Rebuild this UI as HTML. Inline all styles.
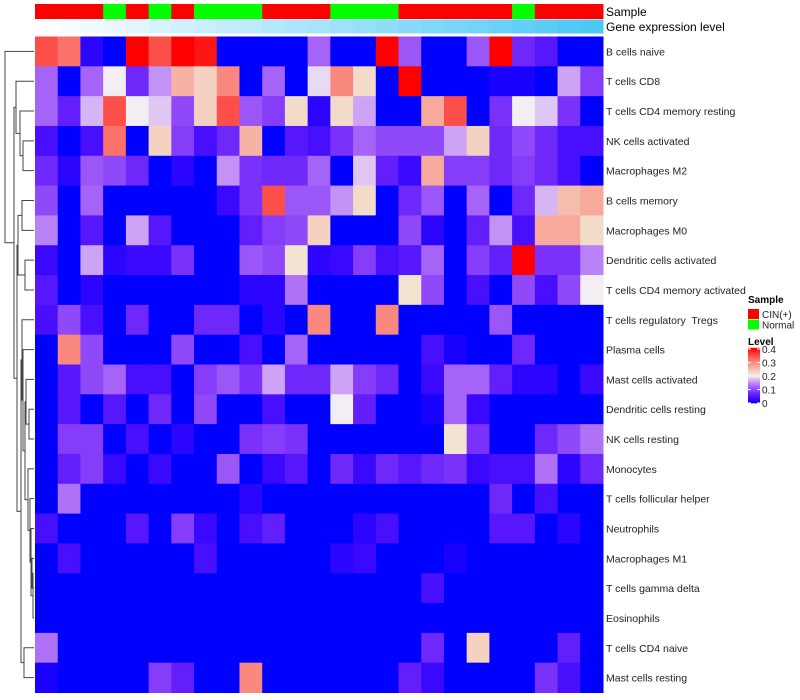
<!DOCTYPE html>
<html><head><meta charset="utf-8"><style>
body{margin:0;background:#fff;width:800px;height:700px;overflow:hidden}
svg{display:block}
text{font-family:"Liberation Sans",sans-serif;white-space:pre}
</style></head><body>
<svg id="chart" width="800" height="700"></svg>
<script>
const rowNames=["B cells naive","T cells CD8","T cells CD4 memory resting","NK cells activated","Macrophages M2","B cells memory","Macrophages M0","Dendritic cells activated","T cells CD4 memory activated","T cells regulatory  Tregs","Plasma cells","Mast cells activated","Dendritic cells resting","NK cells resting","Monocytes","T cells follicular helper","Neutrophils","Macrophages M1","T cells gamma delta","Eosinophils","T cells CD4 naive","Mast cells resting"];
const sampleGroups=["CIN","CIN","CIN","Normal","CIN","Normal","CIN","Normal","Normal","Normal","CIN","CIN","CIN","Normal","Normal","Normal","CIN","CIN","CIN","CIN","CIN","Normal","CIN","CIN","CIN"];
const geneLevel=[0,0.04,0.08,0.12,0.17,0.21,0.25,0.29,0.33,0.37,0.42,0.46,0.5,0.54,0.58,0.62,0.67,0.71,0.75,0.79,0.83,0.87,0.92,0.96,1];
const r0=[0.35,0.32,0.02,0,0.4,0.35,0.4,0.39,0,0,0,0,0.12,0,0,0.4,0.11,0,0,0.11,0.4,0.07,0.05,0,0];
const r1=[0.12,0,0.12,0.2,0.07,0.15,0.26,0.23,0.3,0,0.12,0,0.19,0.3,0.22,0,0.4,0,0,0,0.01,0.01,0,0.16,0.09];
const r2=[0.12,0.06,0.17,0.35,0.2,0.18,0.1,0.23,0.35,0.11,0.09,0.22,0.02,0.22,0.16,0,0,0.27,0.35,0,0.08,0.2,0.18,0.08,0];
const r3=[0.04,0,0.04,0.32,0,0.23,0.09,0.04,0.07,0.26,0,0.05,0.04,0.08,0.12,0.1,0.1,0.1,0.16,0.23,0.07,0.1,0.07,0.04,0.04];
const r4=[0.07,0.02,0.11,0.1,0.07,0,0.02,0,0.15,0.08,0.07,0.07,0.12,0,0.18,0.06,0.03,0.27,0.09,0.09,0.07,0.09,0.07,0.04,0];
const r5=[0.1,0,0.12,0,0,0,0,0,0.03,0.08,0.35,0.11,0.11,0.15,0.22,0,0.07,0.11,0,0.12,0,0.07,0.17,0.25,0.27];
const r6=[0.14,0,0.05,0,0.16,0.05,0,0,0,0.06,0.09,0.1,0.23,0,0,0,0.1,0.02,0,0.06,0.15,0.04,0.27,0.27,0.22];
const r7=[0.03,0,0.16,0.02,0.03,0.03,0.08,0,0,0.11,0.1,0.21,0.02,0.03,0.09,0.04,0.05,0.12,0,0.09,0.06,0.4,0.08,0.08,0.14];
const r8=[0.05,0,0.02,0,0,0,0,0,0,0.02,0.02,0.13,0,0,0,0,0.21,0.1,0,0.04,0,0.1,0.04,0.1,0.2];
const r9=[0.04,0.1,0.04,0,0.07,0,0,0.07,0.07,0,0.02,0,0.3,0,0,0.3,0,0,0,0,0.11,0,0,0,0];
const r10=[0,0.3,0.1,0,0,0,0.1,0,0,0.04,0,0.12,0,0,0,0,0,0.04,0.01,0,0,0.07,0,0,0];
const r11=[0,0.05,0.1,0.12,0.04,0.04,0,0.09,0.11,0.08,0.16,0.07,0.07,0.16,0.09,0.07,0,0.03,0.12,0.12,0.06,0.02,0.02,0,0.03];
const r12=[0,0.05,0,0.05,0,0.07,0,0.1,0,0,0.04,0,0,0.2,0.06,0,0,0.01,0.12,0.03,0,0,0,0,0];
const r13=[0,0.09,0.09,0,0.04,0,0.02,0,0,0.08,0.09,0.08,0,0,0,0,0,0,0.21,0.08,0,0,0.07,0.1,0.13];
const r14=[0,0.06,0.09,0.03,0,0.03,0,0,0.11,0,0.03,0.05,0,0.07,0.03,0.07,0.05,0.07,0.08,0.03,0.04,0.04,0.13,0.02,0.07];
const r15=[0,0.13,0,0,0,0,0,0,0,0.02,0,0,0,0,0,0,0,0,0,0,0.07,0,0.04,0,0];
const r16=[0.04,0,0,0,0.05,0,0.09,0.03,0,0.04,0.06,0,0,0,0.02,0.04,0,0,0,0,0.05,0.05,0,0.02,0];
const r17=[0,0.04,0,0,0,0,0,0.04,0,0,0,0,0,0.02,0.03,0,0,0,0.01,0,0,0,0,0,0];
const r18=[0,0,0,0,0,0,0,0,0,0,0,0,0,0,0,0,0,0.04,0,0,0,0,0,0,0];
const r19=[0,0,0,0,0,0,0,0,0,0,0,0,0,0,0,0,0,0,0,0,0,0,0,0,0];
const r20=[0.13,0,0,0,0,0,0,0,0,0,0,0,0,0,0,0,0,0.07,0,0.23,0,0,0,0.06,0];
const r21=[0.01,0,0,0,0,0.09,0.06,0,0,0.3,0,0,0,0,0,0,0.06,0.03,0,0,0,0,0.08,0.04,0];
const values=[r0,r1,r2,r3,r4,r5,r6,r7,r8,r9,r10,r11,r12,r13,r14,r15,r16,r17,r18,r19,r20,r21];
const legendTicks=[0,0.1,0.2,0.3,0.4];
// dendrogram merges: [childA, childB, xpos]; ids >=22 refer to merges
const merges=[[3,4,23],[2,22,20],[1,23,16],[5,6,22],[7,8,25],[25,26,18],[12,13,29],[28,11,26],[17,18,32],[19,30,33],[16,31,31],[15,32,30],[14,33,28],[29,34,25],[10,35,23],[9,36,22],[20,21,24],[37,38,21],[27,39,17],[24,40,14],[0,41,5]];

const NS="http://www.w3.org/2000/svg";
const svg=document.getElementById('chart');
function mk(t,a,p){const e=document.createElementNS(NS,t);for(const k in a)e.setAttribute(k,a[k]);(p||svg).appendChild(e);return e;}
const X0=35,X1=603,Y0=36.5,Y1=692.5;
const nC=sampleGroups.length,nR=rowNames.length;
const cw=(X1-X0)/nC,rh=(Y1-Y0)/nR;
const xS=i=>X0+i*cw, yS=j=>Y0+j*rh;
function col(v){
  let t=Math.max(0,Math.min(1,v/0.4));
  if(t<=0.5){const s=t/0.5;
    return `rgb(${Math.round(242*Math.pow(s,0.75))},${Math.round(238*Math.pow(s,1.7))},${Math.round(255-13*s)})`;}
  const s=(t-0.5)/0.5;const g=Math.round(238*Math.pow(1-s,0.8));
  return `rgb(${Math.round(242+13*s)},${g},${Math.round(g*0.92)})`;
}
function geneCol(f){const a=[255,255,255],b=[76,200,245];return `rgb(${a.map((c,i)=>Math.round(c+(b[i]-c)*f)).join(',')})`;}

sampleGroups.forEach((g,i)=>{
  const r=mk('rect',{x:xS(i),y:4,width:cw+0.5,height:15,fill:g==="CIN"?"#ff0000":"#00ff00"});
  
  
});
geneLevel.forEach((f,i)=>{
  const r=mk('rect',{x:xS(i),y:19.5,width:cw+0.5,height:14,fill:geneCol(f)});
  
  
});
let t=mk('text',{x:606,y:16,'font-size':12,fill:'#000'});t.textContent='Sample';


t=mk('text',{x:606,y:31,'font-size':12,fill:'#000'});t.textContent='Gene expression level';



values.forEach((row,j)=>row.forEach((v,i)=>{
  const r=mk('rect',{x:xS(i),y:yS(j),width:cw+0.5,height:rh+0.5,fill:col(v)});
  
  
}));
rowNames.forEach((n,j)=>{
  const e=mk('text',{x:606,y:yS(j)+rh/2+4,'font-size':10.5,fill:'#222'});e.textContent=n;
  
  
});
const g=mk('g',{stroke:'#444','stroke-width':1,fill:'none'});


const pos={};
for(let j=0;j<nR;j++)pos[j]={x:X0-1,y:yS(j)+rh/2};
merges.forEach((m,k)=>{
  const a=pos[m[0]],b=pos[m[1]],x=m[2];
  mk('path',{d:`M${a.x},${a.y}H${x}V${b.y}H${b.x}`},g);
  pos[nR+k]={x:x,y:(a.y+b.y)/2};
});
t=mk('text',{x:748,y:303,'font-size':10,'font-weight':'bold'});t.textContent='Sample';

[["CIN(+)","#ff0000",309],["Normal","#00ff00",319.5]].forEach(d=>{
  const r=mk('rect',{x:748,y:d[2],width:11,height:10,fill:d[1]});
  
  const e=mk('text',{x:762,y:d[2]+9,'font-size':10,fill:'#222'});e.textContent=d[0];
  
});
t=mk('text',{x:748,y:345,'font-size':10,'font-weight':'bold'});t.textContent='Level';

const LB0=403,LB1=349;
const lvY=v=>LB0+(LB1-LB0)*v/0.4;
for(let k=0;k<56;k++){const v=0.4*k/55;
  mk('rect',{x:748,y:lvY(v)-1.2,width:12,height:1.6,fill:col(v)});}
legendTicks.forEach(v=>{
  mk('line',{x1:748,x2:751,y1:lvY(v),y2:lvY(v),stroke:'#fff'});
  mk('line',{x1:757,x2:760,y1:lvY(v),y2:lvY(v),stroke:'#fff'});
  const e=mk('text',{x:762,y:lvY(v)+4,'font-size':10,fill:'#222'});e.textContent=String(v);
  
});
</script>
</body></html>
